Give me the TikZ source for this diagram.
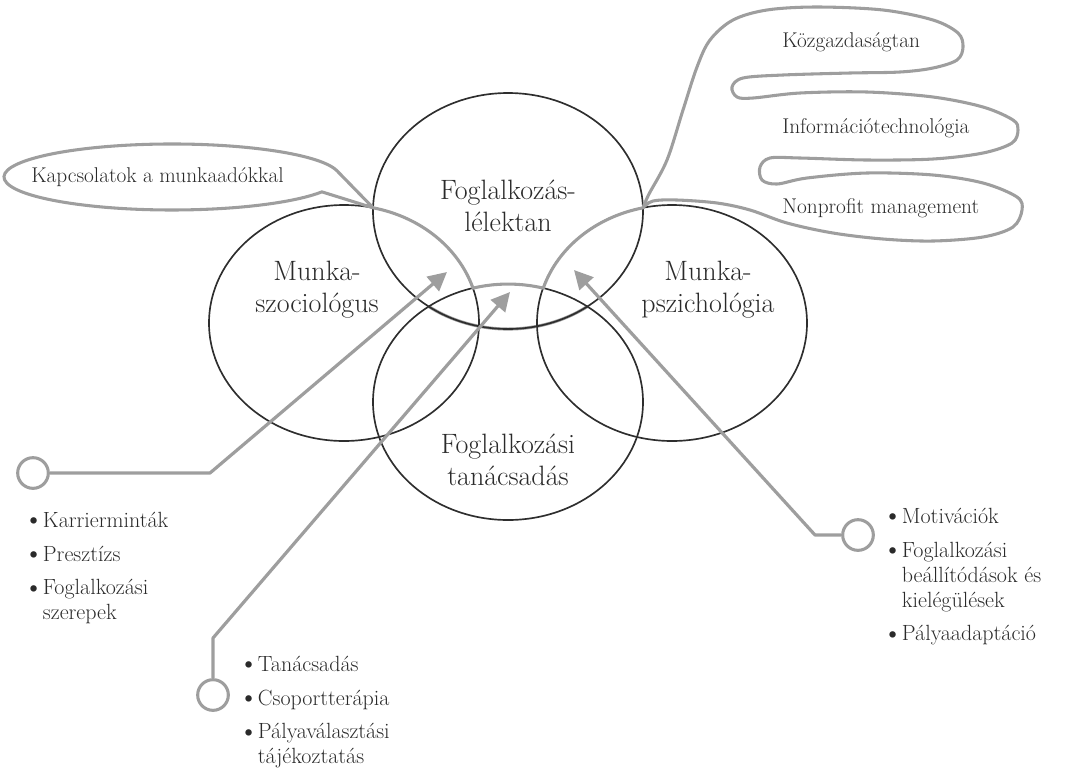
\documentclass[tikz,border=0pt]{standalone}
\usepackage{graphicx}
\usepackage{tikz}
\usetikzlibrary{arrows.meta, positioning, shapes.geometric}
\definecolor{ringline}{HTML}{2E2E2E}
\definecolor{hlgray}{HTML}{9E9E9E}
\definecolor{inktext}{HTML}{2A2A2A}
\newcommand{\lbul}{\makebox[11pt][l]{\makebox[8pt][c]{\raisebox{-0.06em}{\scalebox{1.3}{\textbullet}}}}}
\newcommand{\lind}{\hspace*{11pt}}

\begin{document}
\begin{tikzpicture}[
    x=0.75pt, y=-0.75pt,
    every node/.style={text=inktext},
    ring/.style={draw=ringline, line width=1.25pt, ellipse, minimum width=202.5pt, minimum height=177pt, inner sep=0pt},
    lbl/.style={align=center, font=\fontsize{21}{24}\selectfont},
    blist/.style={align=left, anchor=north west, inner sep=0pt, font=\fontsize{16.5}{18.75}\selectfont},
    ctext/.style={anchor=base west, inner sep=0pt, font=\fontsize{16}{19}\selectfont},
    callout/.style={draw=hlgray, line width=2.3pt, line join=round},
    arr/.style={-{Triangle[length=14pt, width=14pt]}, draw=hlgray, line width=2.4pt, line join=round},
    knob/.style={circle, draw=hlgray, line width=2.3pt, minimum size=23pt, inner sep=0pt, fill=white}
]
\useasboundingbox (0,0) rectangle (1077,776);

% crossing points of the rings
\coordinate (x-ls) at (373.1,207.8);
\coordinate (x-tb) at (428.7,306.5);

% highlighted lower arc of the top ring
\draw[callout] (x-tb) arc[start angle=126, end angle=54, x radius=135, y radius=118];

% the four rings
\node[ring] (lek)  at (508,211) {};
\node[ring] (szoc) at (344,323) {};
\node[ring] (psz)  at (672,323) {};
\node[ring] (tan)  at (508,402) {};

\node[lbl] (lek-l)  at (508,206) {Foglalkozás-\\lélektan};
\node[lbl] (szoc-l) at (317,290) {Munka-\\szociológus};
\node[lbl] (psz-l)  at (708,290) {Munka-\\pszichológia};
\node[lbl] (tan-l)  at (508,460) {Foglalkozási\\tanácsadás};

% left callout
\draw[callout] (x-ls) -- (337.0,170.8) arc[start angle=-10.8, end angle=-333.2, x radius=168, y radius=33] -- cycle;
\node[ctext] (kapcs) at (31,182) {Kapcsolatok a munkaadókkal};

% inner outline and right callout
\draw[callout] (x-ls) arc[start angle=-77.55, end angle=-17.2, x radius=135, y radius=118]
    arc[start angle=-105.1, end angle=-74.9, x radius=135, y radius=118]
    arc[start angle=-162.8, end angle=-102.45, x radius=135, y radius=118]
    -- plot[smooth, tension=0.55] coordinates {(642.9,207.8) (649,194) (667,160) (683,110) (697,67) (710,40) (733,20) (767,10) (817,7) (883,10) (933,20) (958,33) (963,47) (957,60) (933,68) (900,72) (850,73) (783,75) (743,78) (732,87) (737,97) (753,98) (800,93) (867,92) (933,97) (983,107) (1013,120) (1018,130) (1012,143) (983,153) (933,159) (867,160) (800,158) (770,158) (760,167) (762,180) (777,184) (807,178) (867,173) (933,175) (983,183) (1017,197) (1022,210) (1013,227) (983,237) (933,241) (883,239) (833,233) (787,223) (750,210) (717,203) (677,200) (653,201) (642.9,207.8)};
\node[ctext] (kozg) at (782,47)  {Közgazdaságtan};
\node[ctext] (info) at (782,133) {Információtechnológia};
\node[ctext] (nonp) at (782,213) {Nonprofit management};

% pointers with knobs
\node[knob] (k-szoc) at (33,473) {};
\node[knob] (k-tan)  at (213,695) {};
\node[knob] (k-psz)  at (858,535) {};
\coordinate (b-szoc) at (210,473);
\coordinate (b-tan)  at (213,638);
\coordinate (b-psz)  at (815,535);
\coordinate (t-szoc) at (447,272);
\coordinate (t-tan)  at (510,292);
\coordinate (t-psz)  at (574,270);
\draw[arr] (k-szoc) -- (b-szoc) -- (t-szoc);
\draw[arr] (k-tan) -- (b-tan) -- (t-tan);
\draw[arr] (k-psz) -- (b-psz) -- (t-psz);

% bullet lists
\node[blist] (list-szoc) at (28,512) {\lbul Karrierminták\\[6.5pt]\lbul Presztízs\\[6.5pt]\lbul Foglalkozási\\\lind szerepek};
\node[blist] (list-tan) at (243,656) {\lbul Tanácsadás\\[6.5pt]\lbul Csoportterápia\\[6.5pt]\lbul Pályaválasztási\\\lind tájékoztatás};
\node[blist] (list-psz) at (887,508) {\lbul Motivációk\\[6.5pt]\lbul Foglalkozási\\\lind beállítódások és\\\lind kielégülések\\[6.5pt]\lbul Pályaadaptáció};

\end{tikzpicture}
\end{document}
